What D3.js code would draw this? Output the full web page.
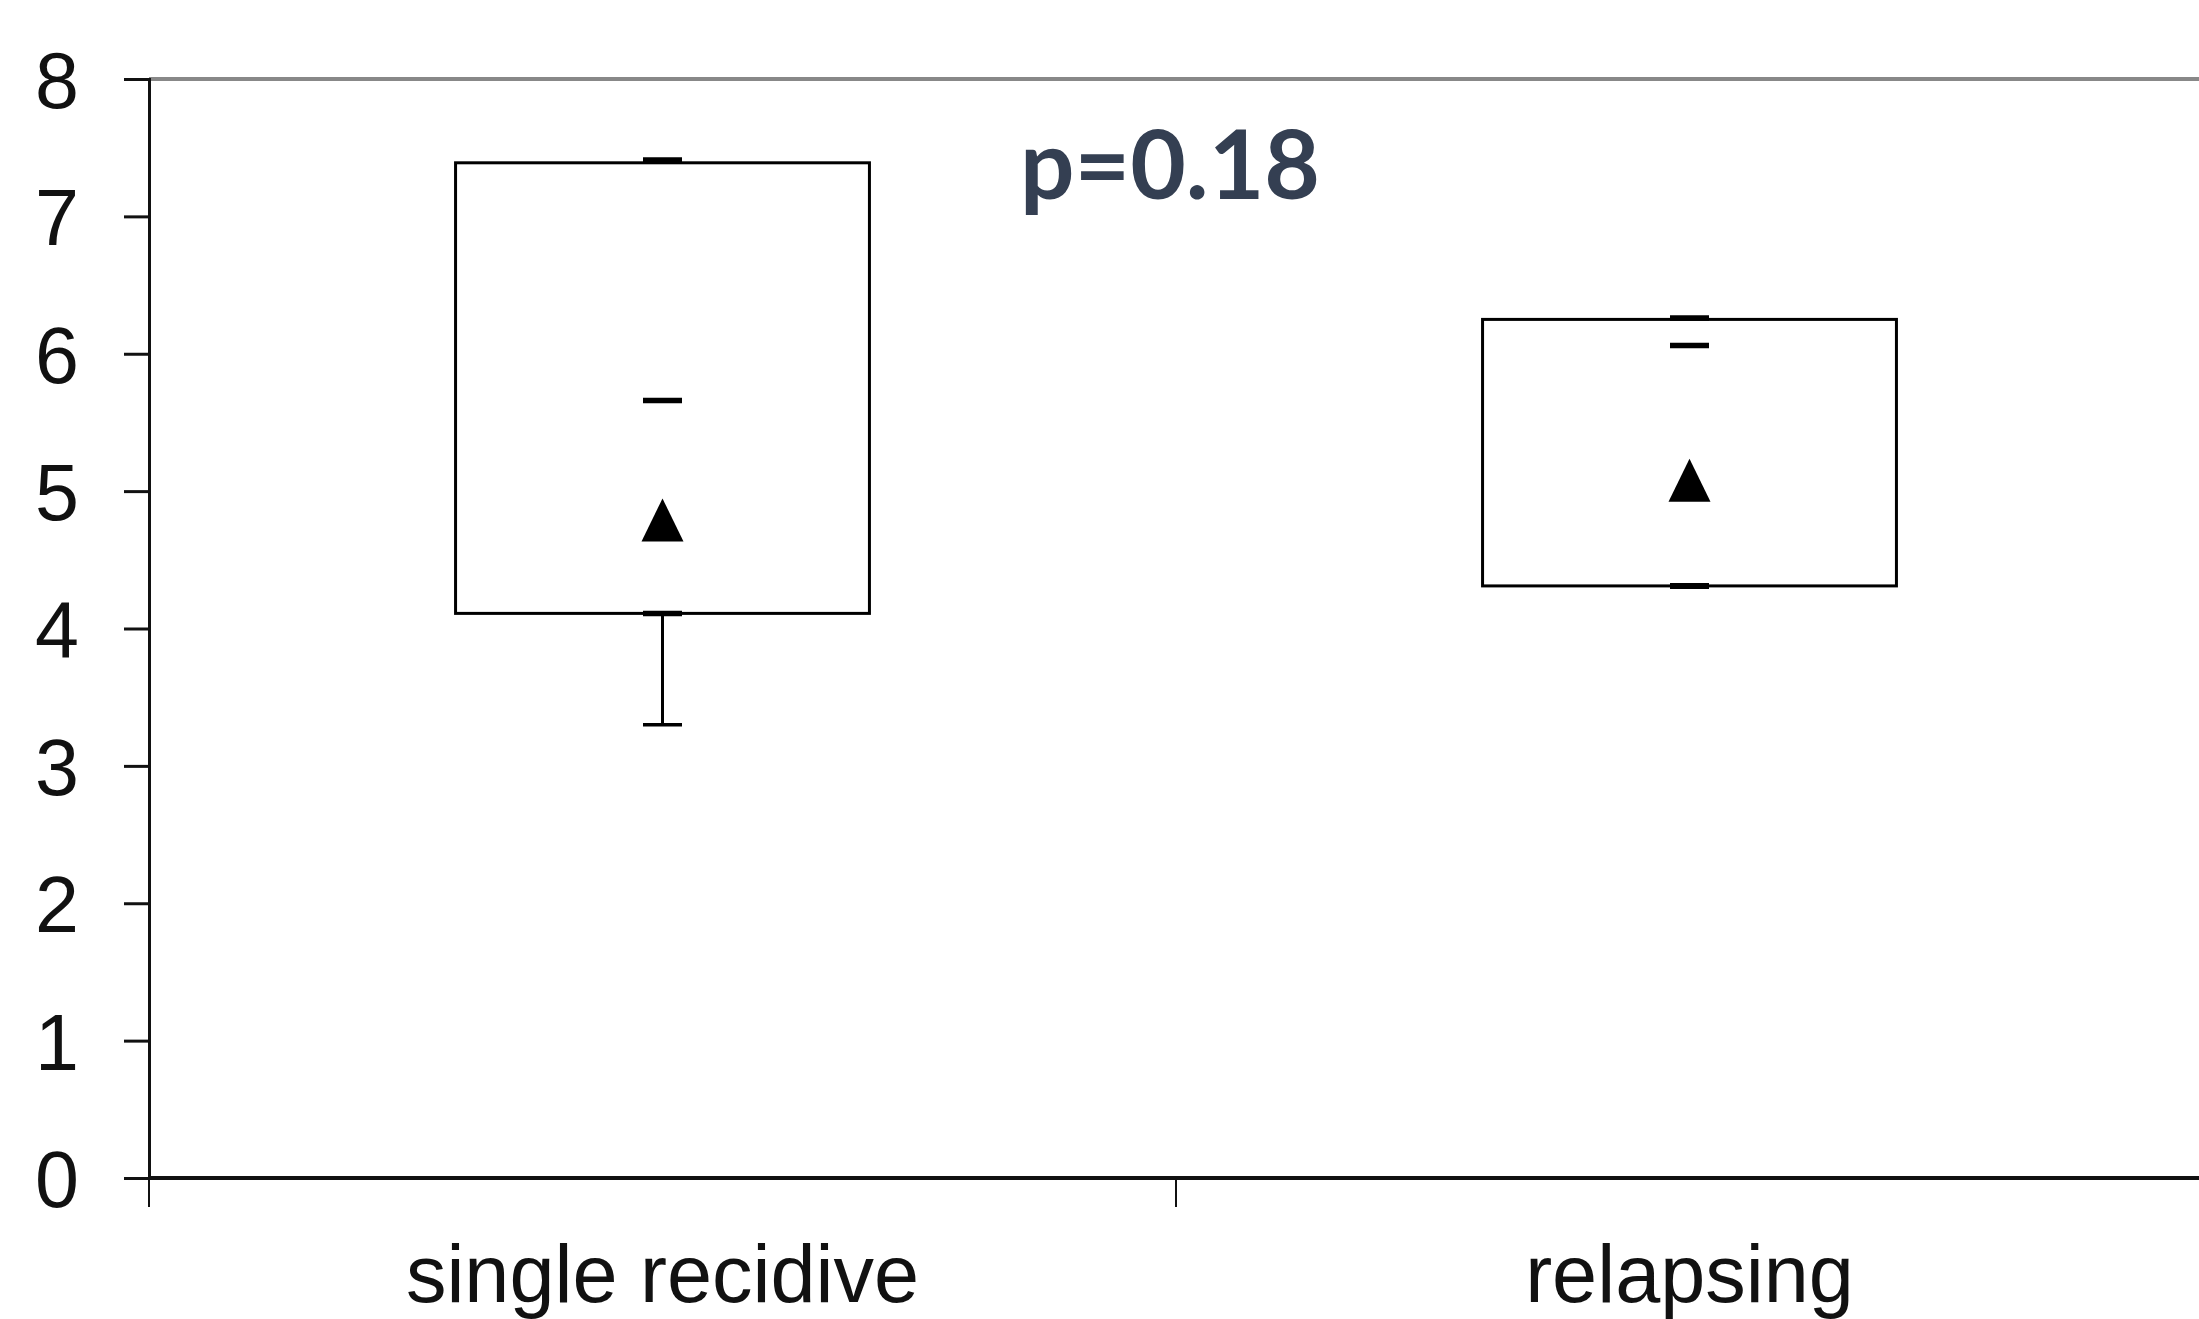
<!DOCTYPE html>
<html>
<head>
<meta charset="utf-8">
<script src="https://cdn.jsdelivr.net/npm/d3@7"></script>
<style>
  body { margin: 0; background: #fff; }
  svg { display: block; }
  .tick text { font-family: "Liberation Sans", Arial, sans-serif; fill: #111; }
</style>
</head>
<body>
<script>
// groups and box statistics
var groups = ["single recidive", "relapsing"];
var whiskerLow = [3.3, 4.31];
var q1 = [4.11, 4.31];
var median = [5.66, 6.06];
var q3 = [7.39, 6.25];
var whiskerHigh = [7.41, 6.26];
var means = [4.79, 5.08];
var yTicks = [0, 1, 2, 3, 4, 5, 6, 7, 8];
var pLabel = "p=0.18";

var W = 2199, H = 1319;
var margin = {top: 79, left: 149},
    plotH = 1178 - margin.top,
    plotRight = 2203;

var svg = d3.select("body").append("svg")
    .attr("width", W)
    .attr("height", H);

var x = d3.scaleBand()
    .domain(groups)
    .range([margin.left, plotRight]);

var y = d3.scaleLinear()
    .domain([0, 8])
    .range([margin.top + plotH, margin.top]);

var boxW = x.bandwidth() * 0.403,
    dashW = 39;

// top frame line (grey)
svg.append("line")
    .attr("x1", margin.left).attr("x2", plotRight)
    .attr("y1", y(8)).attr("y2", y(8))
    .attr("stroke", "#888").attr("stroke-width", 4);

// y axis
var yAxis = svg.append("g")
    .attr("transform", "translate(" + margin.left + ",0)")
    .call(d3.axisLeft(y).tickValues(yTicks).tickSize(25).tickPadding(45).tickFormat(d3.format("d")));
yAxis.select(".domain").attr("stroke", "#111").attr("stroke-width", 3);
yAxis.selectAll(".tick line").attr("stroke", "#111").attr("stroke-width", 3);
yAxis.selectAll(".tick text").attr("font-size", 79).attr("dy", "0.36em");

// x axis: labels centred in bands, ticks on band boundaries
var xAxis = svg.append("g")
    .attr("transform", "translate(0," + y(0) + ")")
    .call(d3.axisBottom(x).tickSize(0).tickPadding(66));
xAxis.select(".domain").remove();
xAxis.selectAll(".tick text").attr("font-size", 81);

svg.append("line")
    .attr("x1", margin.left).attr("x2", plotRight)
    .attr("y1", y(0)).attr("y2", y(0))
    .attr("stroke", "#111").attr("stroke-width", 4);

svg.selectAll(".xbound")
    .data(groups.concat(["end"]))
    .enter().append("line")
    .attr("class", "xbound")
    .attr("x1", function(d, i) { return margin.left + i * x.step(); })
    .attr("x2", function(d, i) { return margin.left + i * x.step(); })
    .attr("y1", y(0)).attr("y2", y(0) + 29)
    .attr("stroke", "#111").attr("stroke-width", 2);

// boxes
var g = svg.selectAll(".grp")
    .data(groups)
    .enter().append("g")
    .attr("class", "grp");

function cx(d) { return x(d) + x.bandwidth() / 2; }

// lower whisker
g.append("line")
    .attr("x1", cx).attr("x2", cx)
    .attr("y1", function(d, i) { return y(whiskerLow[i]); })
    .attr("y2", function(d, i) { return y(q1[i]); })
    .attr("stroke", "#000").attr("stroke-width", 3);
g.append("line")
    .attr("x1", function(d) { return cx(d) - dashW / 2; })
    .attr("x2", function(d) { return cx(d) + dashW / 2; })
    .attr("y1", function(d, i) { return y(whiskerLow[i]); })
    .attr("y2", function(d, i) { return y(whiskerLow[i]); })
    .attr("stroke", "#000").attr("stroke-width", function(d, i) { return whiskerLow[i] < q1[i] ? 3.5 : 6; });

g.append("rect")
    .attr("x", function(d) { return cx(d) - boxW / 2; })
    .attr("width", boxW)
    .attr("y", function(d, i) { return y(q3[i]); })
    .attr("height", function(d, i) { return y(q1[i]) - y(q3[i]); })
    .attr("fill", "none")
    .attr("stroke", "#000").attr("stroke-width", 3);

// dashes for q1, median, max
[q1, median, whiskerHigh].forEach(function(arr) {
  g.append("line")
      .attr("x1", function(d) { return cx(d) - dashW / 2; })
      .attr("x2", function(d) { return cx(d) + dashW / 2; })
      .attr("y1", function(d, i) { return y(arr[i]); })
      .attr("y2", function(d, i) { return y(arr[i]); })
      .attr("stroke", "#000").attr("stroke-width", 5.5);
});

// mean triangle
var triangle = {
  draw: function(ctx, size) {
    var w = 42, h = 43;
    ctx.moveTo(0, -h / 2);
    ctx.lineTo(w / 2, h / 2);
    ctx.lineTo(-w / 2, h / 2);
    ctx.closePath();
  }
};
g.append("path")
    .attr("d", d3.symbol().type(triangle)())
    .attr("transform", function(d, i) { return "translate(" + cx(d) + "," + y(means[i]) + ")"; })
    .attr("fill", "#000");

// p value
svg.append("text")
    .attr("x", margin.left + x.step() - 6)
    .attr("y", y(7.13))
    .attr("text-anchor", "middle")
    .attr("font-family", "Lato, 'Open Sans', sans-serif")
    .attr("font-weight", "bold")
    .attr("font-size", 96)
    .attr("fill", "#343f52")
    .text(pLabel);
</script>
</body>
</html>
